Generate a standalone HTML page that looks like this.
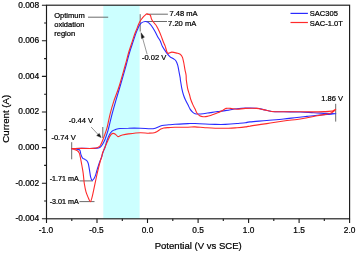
<!DOCTYPE html>
<html><head><meta charset="utf-8">
<style>
html,body{margin:0;padding:0;background:#fff;}
svg{display:block;will-change:transform;font-family:"Liberation Sans",sans-serif;}
</style></head><body>
<svg width="357" height="253" viewBox="0 0 357 253">
<rect width="357" height="253" fill="#fff"/>
<rect x="103.3" y="5.2" width="36.3" height="213.6" fill="#ccffff"/>
<g stroke="#5a5a5a" stroke-width="0.9" fill="none">
<path d="M88 17.2H108.2"/>
<path d="M140.2 14.2V31.6"/>
<path d="M146.9 14.2H167.9"/>
<path d="M145.2 21.5H167"/>
<path d="M102.8 127V138"/>
<path d="M71.7 142.2V159.3"/>
<path d="M79.4 180.9H92.9"/>
<path d="M79.4 201.6H94.5"/>
<path d="M335.7 103.8V121.6"/>
</g>
<g fill="none" stroke-width="1.1" stroke-linejoin="round" stroke-linecap="round">
<path stroke="#2a2aff" d="M71.7 148.6 C72.5 148.7 75.5 148.9 76.8 149.2 C78.1 149.5 79.1 149.3 79.8 150.2 C80.5 151.1 80.5 153.5 81.0 154.8 C81.5 156.1 81.9 157.3 82.6 158.1 C83.3 158.9 84.5 159.1 85.2 159.6 C85.9 160.1 86.4 160.1 86.9 160.8 C87.4 161.5 87.9 162.1 88.3 163.6 C88.7 165.1 89.1 167.9 89.5 170.1 C89.9 172.3 90.2 175.1 90.6 176.8 C91.0 178.5 91.5 180.0 92.1 180.3 C92.6 180.6 93.3 179.7 93.9 178.8 C94.5 177.9 95.0 176.7 95.6 175.1 C96.2 173.5 96.6 171.3 97.3 169.2 C98.0 167.1 98.8 164.5 99.5 162.5 C100.2 160.5 101.0 158.7 101.6 157.0 C102.2 155.3 102.4 153.9 103.0 152.3 C103.6 150.7 104.3 149.2 105.0 147.2 C105.7 145.2 106.3 142.5 107.0 140.5 C107.7 138.5 108.2 137.0 109.0 135.4 C109.8 133.8 111.0 132.2 112.1 131.2 C113.2 130.2 114.1 130.0 115.4 129.6 C116.7 129.2 117.8 128.7 120.0 128.5 C122.2 128.3 125.0 128.2 128.4 128.2 C131.8 128.1 136.5 128.1 140.2 128.2 C143.8 128.3 147.8 128.8 150.3 128.8 C152.8 128.8 153.3 128.8 155.3 128.2 C157.3 127.6 159.8 126.1 162.1 125.5 C164.3 124.9 166.7 125.0 168.8 124.8 C171.0 124.6 171.8 124.5 175.0 124.3 C178.2 124.1 184.6 123.7 187.9 123.6 C191.2 123.5 192.1 123.4 195.0 123.5 C197.9 123.6 201.7 123.8 205.1 124.0 C208.5 124.2 211.8 124.3 215.2 124.4 C218.6 124.5 221.7 124.6 225.3 124.4 C228.9 124.2 233.7 123.8 237.0 123.5 C240.3 123.2 243.2 123.0 245.4 122.7 C247.6 122.4 246.4 122.3 250.0 121.9 C253.6 121.5 261.2 121.0 266.8 120.5 C272.4 120.0 278.6 119.5 283.6 119.0 C288.6 118.5 293.1 117.9 297.0 117.5 C300.9 117.1 303.7 116.8 307.1 116.4 C310.5 116.0 313.8 115.6 317.2 115.3 C320.6 115.0 324.2 114.7 327.3 114.4 C330.4 114.1 336.0 113.8 335.7 113.6 C335.4 113.4 329.2 113.6 325.6 113.4 C322.0 113.2 318.0 112.9 313.8 112.7 C309.6 112.5 305.4 112.2 300.4 112.0 C295.4 111.8 288.4 111.9 283.6 111.8 C278.8 111.7 275.2 111.9 271.8 111.5 C268.4 111.1 265.9 110.1 263.4 109.6 C260.9 109.0 259.7 108.5 256.7 108.2 C253.7 108.0 248.7 108.0 245.4 108.1 C242.1 108.2 239.8 108.4 237.0 108.7 C234.2 109.0 231.4 109.6 228.6 110.1 C225.8 110.5 222.3 111.1 220.2 111.4 C218.1 111.7 217.7 111.6 216.0 111.8 C214.3 112.0 212.4 112.3 210.3 112.6 C208.2 112.9 205.2 113.5 203.2 113.7 C201.2 113.9 199.5 114.0 198.2 114.0 C196.8 114.0 196.0 114.0 195.1 113.7 C194.2 113.4 193.4 112.9 192.6 112.1 C191.8 111.3 190.8 110.3 190.1 109.1 C189.3 107.9 188.9 106.6 188.1 105.1 C187.3 103.6 186.3 101.7 185.5 100.0 C184.7 98.3 184.1 96.9 183.5 95.0 C182.9 93.1 182.3 90.9 181.8 88.4 C181.3 85.9 180.7 81.8 180.4 80.0 C180.1 78.2 180.4 79.3 180.2 77.8 C179.9 76.3 179.3 73.2 178.9 71.1 C178.5 69.0 178.2 66.9 177.7 65.2 C177.2 63.5 176.7 62.1 176.0 61.0 C175.3 59.9 174.5 59.5 173.5 58.8 C172.5 58.1 171.2 57.8 170.1 56.8 C169.0 55.8 168.1 54.8 166.8 53.1 C165.6 51.4 163.7 48.7 162.6 46.7 C161.5 44.7 161.1 42.7 160.3 41.1 C159.5 39.5 158.6 38.4 157.8 36.9 C157.0 35.4 156.1 33.4 155.3 31.9 C154.5 30.4 153.6 29.0 152.8 27.7 C152.0 26.4 151.2 25.2 150.3 24.3 C149.5 23.4 148.5 22.6 147.7 22.1 C146.8 21.6 146.2 21.4 145.2 21.5 C144.2 21.6 142.8 22.0 141.8 22.6 C140.8 23.2 140.1 24.2 139.4 25.3 C138.7 26.4 138.3 27.6 137.7 28.9 C137.1 30.2 136.7 31.2 135.9 33.3 C135.2 35.4 134.2 38.3 133.2 41.4 C132.2 44.5 130.9 48.1 129.7 52.0 C128.5 55.9 127.8 59.2 126.2 65.0 C124.6 70.8 121.7 80.9 119.9 87.0 C118.1 93.1 116.8 97.4 115.5 101.8 C114.2 106.2 113.3 109.4 112.2 113.6 C111.1 117.8 109.6 124.1 108.9 127.0 C108.2 129.9 108.4 129.2 107.8 131.2 C107.2 133.2 106.0 136.8 105.3 138.8 C104.5 140.8 104.0 141.7 103.3 143.0 C102.6 144.3 101.9 145.6 101.1 146.4 C100.3 147.2 99.8 147.7 98.6 148.0 C97.3 148.3 96.4 148.3 93.6 148.4 C90.8 148.5 85.4 148.4 81.8 148.4 C78.2 148.4 73.4 148.6 71.7 148.6"/>
<path stroke="#ff2a2a" d="M71.7 148.6 C72.3 148.8 74.1 149.3 75.1 149.7 C76.1 150.1 76.9 150.3 77.6 150.9 C78.3 151.5 78.8 151.9 79.3 153.1 C79.8 154.3 80.1 156.1 80.5 158.1 C80.9 160.1 81.3 162.4 81.8 165.0 C82.2 167.6 82.8 170.3 83.2 173.4 C83.6 176.5 83.8 180.4 84.3 183.5 C84.8 186.6 85.3 189.5 86.0 191.9 C86.7 194.3 87.6 196.2 88.3 197.8 C89.0 199.4 89.7 201.6 90.3 201.6 C90.9 201.6 91.4 199.7 91.9 197.8 C92.5 195.9 92.9 193.5 93.6 190.3 C94.3 187.1 95.3 182.3 96.1 178.5 C96.9 174.7 97.8 170.7 98.6 167.6 C99.3 164.5 100.1 161.7 100.6 160.0 C101.1 158.3 101.2 158.6 101.6 157.3 C102.0 156.0 102.2 154.0 102.8 152.3 C103.4 150.6 104.2 149.2 105.0 147.2 C105.8 145.2 107.0 142.5 107.9 140.5 C108.8 138.5 109.6 136.6 110.4 135.4 C111.2 134.2 112.1 133.6 112.9 133.4 C113.7 133.2 114.6 133.7 115.4 134.2 C116.2 134.7 117.0 136.4 118.0 136.6 C119.0 136.8 120.0 135.6 121.7 135.2 C123.4 134.8 125.3 134.3 128.4 133.9 C131.5 133.5 136.8 132.8 140.2 132.7 C143.6 132.6 146.1 133.2 148.6 133.2 C151.1 133.1 153.3 133.1 155.3 132.4 C157.3 131.8 159.0 130.0 160.4 129.3 C161.8 128.6 162.3 128.3 163.7 128.0 C165.1 127.7 166.9 127.7 168.8 127.6 C170.7 127.5 171.8 127.4 175.0 127.3 C178.2 127.2 184.6 127.3 187.9 127.2 C191.2 127.1 192.1 126.8 195.0 126.9 C197.9 127.0 201.7 127.5 205.1 127.7 C208.5 127.9 211.3 128.1 215.2 128.2 C219.1 128.3 225.0 128.3 228.6 128.2 C232.2 128.1 234.2 127.9 237.0 127.7 C239.8 127.5 243.2 127.2 245.4 126.9 C247.6 126.6 246.4 126.6 250.0 126.1 C253.6 125.5 261.2 124.4 266.8 123.6 C272.4 122.8 278.6 121.7 283.6 121.0 C288.6 120.3 293.1 120.0 297.0 119.5 C300.9 119.0 303.7 118.4 307.1 117.8 C310.5 117.2 314.1 116.4 317.2 115.8 C320.3 115.2 323.4 114.8 325.6 114.4 C327.8 114.0 329.2 113.8 330.6 113.2 C332.0 112.7 333.1 111.8 334.0 111.1 C334.9 110.4 335.7 109.3 335.7 109.2 C335.7 109.1 334.7 109.9 334.0 110.2 C333.3 110.5 332.9 110.9 331.5 111.1 C330.1 111.3 328.6 111.5 325.6 111.6 C322.7 111.7 318.0 111.9 313.8 111.9 C309.6 111.9 305.4 111.8 300.4 111.8 C295.4 111.8 288.4 111.8 283.6 111.8 C278.8 111.8 275.2 111.9 271.8 111.5 C268.4 111.1 265.9 110.1 263.4 109.6 C260.9 109.1 259.7 108.6 256.7 108.4 C253.7 108.2 248.7 108.3 245.4 108.4 C242.1 108.5 239.5 109.2 237.0 109.2 C234.5 109.2 232.1 108.5 230.3 108.4 C228.5 108.3 227.4 108.1 226.1 108.4 C224.8 108.7 224.0 109.7 222.7 110.4 C221.4 111.1 219.6 112.1 218.5 112.6 C217.4 113.1 217.2 113.0 216.0 113.4 C214.8 113.8 212.8 114.7 211.3 115.2 C209.8 115.7 208.5 116.2 207.2 116.4 C205.8 116.7 204.4 116.8 203.2 116.7 C201.9 116.6 200.7 116.3 199.7 115.7 C198.7 115.1 197.9 114.3 197.1 113.2 C196.3 112.1 195.8 110.6 195.1 109.1 C194.3 107.6 193.3 105.8 192.6 104.1 C191.8 102.4 191.1 100.5 190.6 99.0 C190.1 97.5 190.1 96.8 189.6 95.0 C189.1 93.2 188.1 90.9 187.6 88.4 C187.1 85.9 186.6 82.2 186.3 80.0 C186.1 77.8 186.3 77.1 186.1 75.3 C185.9 73.5 185.3 71.7 184.9 69.4 C184.5 67.2 184.1 63.9 183.6 61.8 C183.1 59.7 182.8 58.0 182.2 56.8 C181.6 55.5 181.1 54.9 180.2 54.3 C179.3 53.7 178.2 53.5 176.8 53.1 C175.4 52.7 173.3 52.1 171.8 52.1 C170.3 52.1 168.7 54.1 167.6 53.1 C166.5 52.1 165.8 47.6 165.1 45.9 C164.4 44.2 164.3 44.4 163.7 42.8 C163.0 41.2 162.0 38.2 161.2 36.1 C160.4 34.0 159.5 32.0 158.7 30.2 C157.8 28.4 156.9 26.5 156.1 25.2 C155.2 23.9 154.3 23.3 153.6 22.3 C152.8 21.3 152.1 20.5 151.6 19.3 C151.1 18.1 150.8 15.9 150.3 15.1 C149.9 14.3 149.5 14.8 148.9 14.6 C148.3 14.4 147.5 13.8 146.9 13.9 C146.3 14.0 145.9 14.5 145.2 15.1 C144.5 15.7 143.5 16.6 142.7 17.6 C141.9 18.6 140.9 19.9 140.2 21.0 C139.5 22.1 139.1 23.2 138.5 24.5 C137.9 25.8 137.4 27.4 136.8 28.9 C136.2 30.4 135.8 31.2 135.0 33.3 C134.2 35.4 133.3 38.3 132.3 41.4 C131.3 44.5 130.0 48.1 128.8 52.0 C127.6 55.9 127.0 59.2 125.3 65.0 C123.6 70.8 120.9 80.9 118.9 87.0 C117.0 93.1 115.0 97.4 113.6 101.8 C112.1 106.2 111.3 109.2 110.2 113.6 C109.1 117.9 108.0 124.3 107.0 127.9 C106.0 131.5 105.3 133.2 104.5 135.4 C103.7 137.6 103.0 139.6 102.3 141.3 C101.6 143.0 101.0 144.5 100.3 145.5 C99.5 146.5 98.9 147.0 97.8 147.5 C96.7 148.0 96.3 148.2 93.6 148.4 C90.9 148.6 85.4 148.4 81.8 148.4 C78.2 148.4 73.4 148.6 71.7 148.6"/>
</g>
<g stroke="#333" stroke-width="0.5" fill="#111">
<path d="M147.1 54.2L142 36" fill="none"/>
<path d="M141 32.7L144.4 37.2L141.5 38.6Z"/>
<path d="M91.1 127L99.5 136" fill="none"/>
<path d="M101.1 137.5L96.7 135.6L99.3 133.4Z"/>
</g>
<rect x="46.5" y="5.2" width="303.1" height="213.6" fill="none" stroke="#1a1a1a" stroke-width="1.15"/>
<g stroke="#1a1a1a" stroke-width="1.1" fill="none">
<path d="M41.9 5.2H46.5M41.9 40.8H46.5M41.9 76.4H46.5M41.9 112.0H46.5M41.9 147.6H46.5M41.9 183.2H46.5M41.9 218.8H46.5"/>
<path d="M44.1 23.0H46.5M44.1 58.6H46.5M44.1 94.2H46.5M44.1 129.8H46.5M44.1 165.4H46.5M44.1 201.0H46.5"/>
<path d="M46.5 218.8V223.0M97.0 218.8V223.0M147.5 218.8V223.0M198.1 218.8V223.0M248.6 218.8V223.0M299.1 218.8V223.0M349.6 218.8V223.0"/>
<path d="M71.8 218.8V221.1M122.3 218.8V221.1M172.8 218.8V221.1M223.3 218.8V221.1M273.8 218.8V221.1M324.3 218.8V221.1"/>
</g>
<g font-size="8.4" fill="#000" stroke="#000" stroke-width="0.22" text-anchor="end">
<text x="39.2" y="7.6">0.008</text>
<text x="39.2" y="43.2">0.006</text>
<text x="39.2" y="78.8">0.004</text>
<text x="39.2" y="114.4">0.002</text>
<text x="39.2" y="150.1">0.000</text>
<text x="39.2" y="185.5">-0.002</text>
<text x="39.2" y="221.0">-0.004</text>
</g>
<g font-size="8.3" fill="#000" stroke="#000" stroke-width="0.22" text-anchor="middle">
<text x="46.0" y="233.3">-1.0</text>
<text x="96.5" y="233.3">-0.5</text>
<text x="147.5" y="233.3">0.0</text>
<text x="198.1" y="233.3">0.5</text>
<text x="248.6" y="233.3">1.0</text>
<text x="299.1" y="233.3">1.5</text>
<text x="349.6" y="233.3">2.0</text>
</g>
<text x="198.2" y="249.3" font-size="9.55" fill="#000" stroke="#000" stroke-width="0.22" text-anchor="middle">Potential (V vs SCE)</text>
<text transform="translate(9.2,118.7) rotate(-90)" font-size="9.7" fill="#000" stroke="#000" stroke-width="0.22" text-anchor="middle">Current (A)</text>
<g font-size="7.55" fill="#000" stroke="#000" stroke-width="0.22">
<text x="54.2" y="17.6">Optimum</text>
<text x="54.2" y="27">oxidation</text>
<text x="54.2" y="36.2">region</text>
<text x="169.5" y="16.3">7.48 mA</text>
<text x="168.1" y="25.5">7.20 mA</text>
<text x="141.9" y="60.3">-0.02 V</text>
<text x="68.8" y="122.7">-0.44 V</text>
<text x="51.4" y="139.8">-0.74 V</text>
<text x="78.8" y="181.4" text-anchor="end" font-size="7.2">-1.71 mA</text>
<text x="78.8" y="203.9" text-anchor="end" font-size="7.2">-3.01 mA</text>
<text x="321.3" y="101.1">1.86 V</text>
<text x="309.8" y="15.7">SAC305</text>
<text x="309.8" y="25.7">SAC-1.0T</text>
</g>
<g stroke-width="1.2">
<path d="M290.5 13.4H307.9" stroke="#2a2aff"/>
<path d="M290.5 22.5H307.9" stroke="#ff2a2a"/>
</g>
</svg>
</body></html>
